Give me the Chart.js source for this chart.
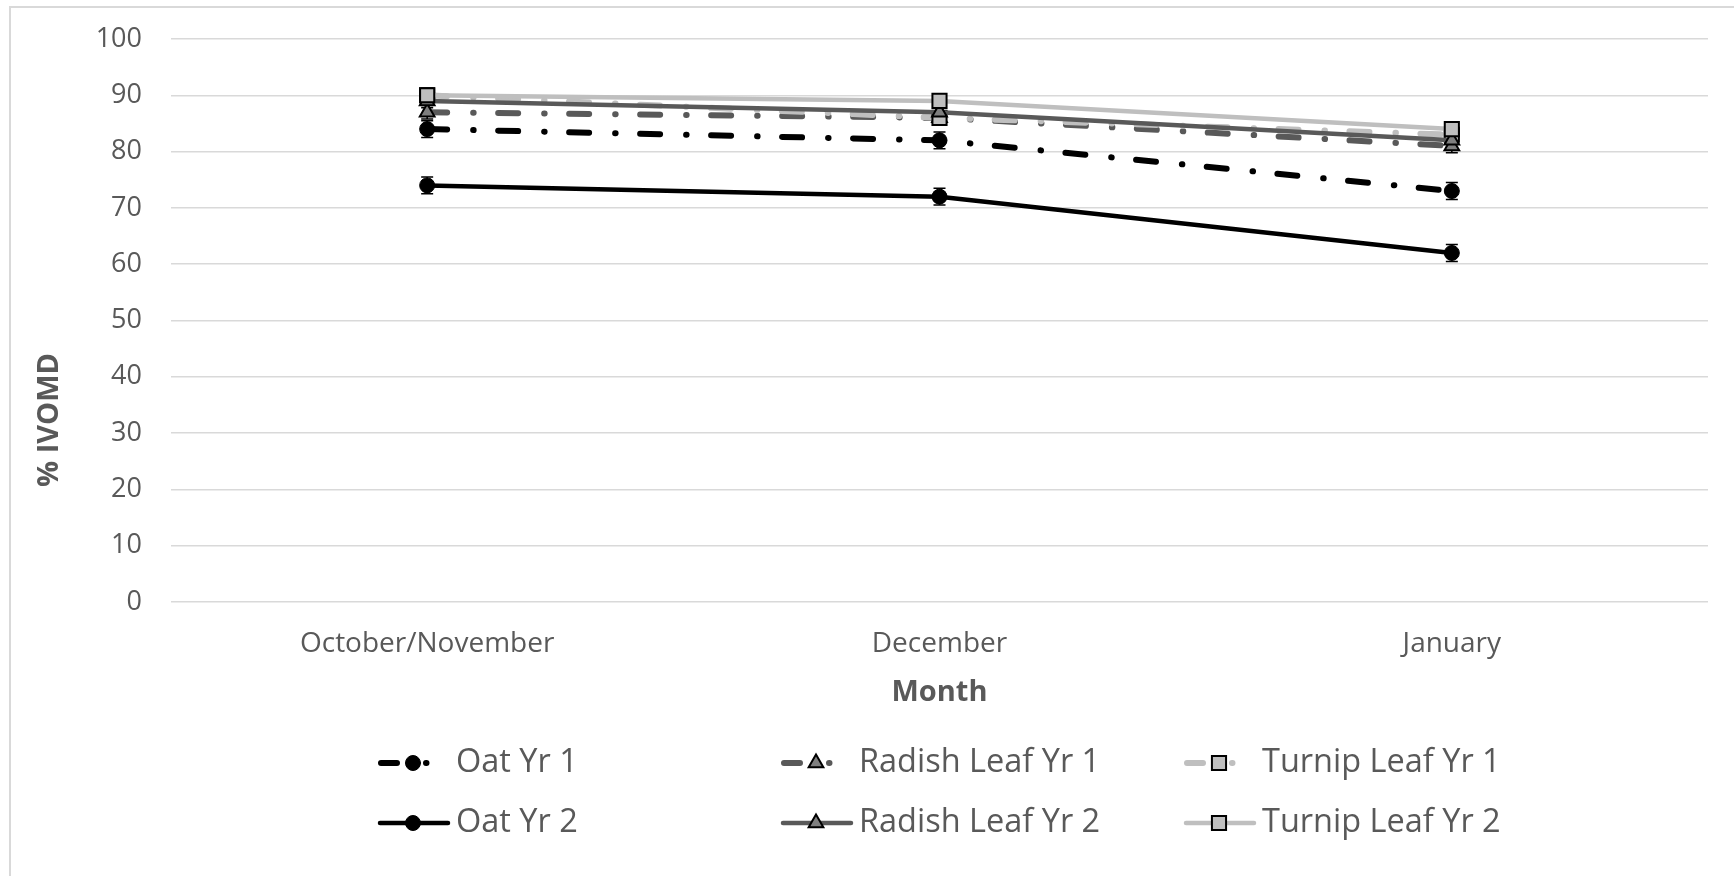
<!DOCTYPE html>
<html>
<head>
<meta charset="utf-8">
<title>% IVOMD by month</title>
<script src="https://cdn.jsdelivr.net/npm/chart.js@4.4.1/dist/chart.umd.min.js"></script>
<style>
    html, body { margin: 0; padding: 0; background: #ffffff; overflow: hidden; }
    #wrap { position: relative; width: 1734px; height: 876px; }
    #ivomdChart { display: block; }
    #frame {
        position: absolute; left: 9px; top: 6px; right: 0; bottom: 0;
        border-top: 2px solid #d9d9d9; border-left: 2px solid #d9d9d9;
        pointer-events: none;
    }
</style>
</head>
<body>
<div id="wrap">
    <canvas id="ivomdChart" width="1734" height="876"></canvas>
    <div id="frame"></div>
</div>
<script>
// ============================================================================
// Data
// ============================================================================

const months = ['October/November', 'December', 'January'];
const yTicks = [0, 10, 20, 30, 40, 50, 60, 70, 80, 90, 100];

const oatYr1 = [84, 82, 73];
const radishYr1 = [87, 86, 81];
const turnipYr1 = [90, 86, 83];
const oatYr2 = [74, 72, 62];
const radishYr2 = [89, 87, 82];
const turnipYr2 = [90, 89, 84];

// error bar half-widths (% IVOMD)
const oatErr = [1.5, 1.5, 1.5];
const leafErr = [1.2, 1.2, 1.2];

// ============================================================================
// Styling
// ============================================================================

const TEXT = '#595959';
const FONT = '"Open Sans", "DejaVu Sans", sans-serif';
const BLACK = '#000000';
const DARK = '#595959';
const LIGHT = '#bfbfbf';
const DASH_DOT = [20, 26, 0.5, 24.5];

function series(label, data, color, dashed, marker, order, errors) {
    const m = {
        circle: { style: 'circle', radius: 7.5, fill: BLACK, border: BLACK, bw: 1 },
        triangle: { style: 'triangle', radius: 8.5, fill: '#7f7f7f', border: BLACK, bw: 2 },
        square: { style: 'rect', radius: 10, fill: LIGHT, border: BLACK, bw: 2 }
    }[marker];
    return {
        label: label,
        data: data,
        borderColor: color,
        backgroundColor: color,
        borderWidth: dashed ? 6 : 4.5,
        borderDash: dashed ? DASH_DOT : [],
        borderCapStyle: 'round',
        borderJoinStyle: 'round',
        tension: 0,
        pointStyle: m.style,
        pointRadius: m.radius,
        pointHoverRadius: m.radius,
        pointBackgroundColor: m.fill,
        pointBorderColor: m.border,
        pointBorderWidth: m.bw,
        order: order,
        errorBars: errors,
        dashed: dashed,
        marker: m
    };
}

const datasets = [
    series('Oat Yr 1', oatYr1, BLACK, true, 'circle', 6, oatErr),
    series('Radish Leaf Yr 1', radishYr1, DARK, true, 'triangle', 5, leafErr),
    series('Turnip Leaf Yr 1', turnipYr1, LIGHT, true, 'square', 4, leafErr),
    series('Oat Yr 2', oatYr2, BLACK, false, 'circle', 3, oatErr),
    series('Radish Leaf Yr 2', radishYr2, DARK, false, 'triangle', 2, leafErr),
    series('Turnip Leaf Yr 2', turnipYr2, LIGHT, false, 'square', 1, leafErr)
];

// ============================================================================
// Plugins
// ============================================================================

// error bars, drawn under the lines
const errorBarPlugin = {
    id: 'errorBars',
    beforeDatasetsDraw(chart) {
        const ctx = chart.ctx;
        const y = chart.scales.y;
        ctx.save();
        ctx.strokeStyle = BLACK;
        ctx.lineWidth = 1.5;
        chart.data.datasets.forEach((ds, i) => {
            if (!ds.errorBars) return;
            chart.getDatasetMeta(i).data.forEach((pt, j) => {
                const top = y.getPixelForValue(ds.data[j] + ds.errorBars[j]);
                const bot = y.getPixelForValue(ds.data[j] - ds.errorBars[j]);
                ctx.beginPath();
                ctx.moveTo(pt.x, top); ctx.lineTo(pt.x, bot);
                ctx.moveTo(pt.x - 6, top); ctx.lineTo(pt.x + 6, top);
                ctx.moveTo(pt.x - 6, bot); ctx.lineTo(pt.x + 6, bot);
                ctx.stroke();
            });
        });
        ctx.restore();
    }
};

// axis titles + Excel-style legend grid (3 columns x 2 rows)
const decorPlugin = {
    id: 'decor',
    afterDraw(chart) {
        const ctx = chart.ctx;
        const area = chart.chartArea;
        ctx.save();

        ctx.fillStyle = TEXT;
        ctx.font = 'bold 29px ' + FONT;
        ctx.textAlign = 'center';
        ctx.textBaseline = 'middle';
        ctx.fillText('Month', (area.left + area.right) / 2, 693);

        ctx.save();
        ctx.translate(50, 420);
        ctx.rotate(-Math.PI / 2);
        ctx.fillText('% IVOMD', 0, 0);
        ctx.restore();

        const colX = [378, 781, 1184];
        const rowY = [763, 823];
        chart.data.datasets.forEach((ds, i) => {
            const x = colX[i % 3];
            const y = rowY[Math.floor(i / 3)];
            const mx = x + 35;

            ctx.strokeStyle = ds.borderColor;
            ctx.lineWidth = ds.dashed ? 6 : 4.5;
            ctx.lineCap = 'round';
            ctx.beginPath();
            if (ds.dashed) {
                ctx.moveTo(x + 3, y); ctx.lineTo(x + 19, y);
                ctx.moveTo(mx + 13, y); ctx.lineTo(mx + 13.5, y);
            } else {
                ctx.moveTo(x + 2, y); ctx.lineTo(x + 70, y);
            }
            ctx.stroke();

            const m = ds.marker;
            ctx.fillStyle = m.fill;
            ctx.strokeStyle = m.border;
            ctx.lineWidth = m.bw;
            Chart.helpers.drawPoint(ctx, {
                pointStyle: m.style,
                radius: m.radius,
                rotation: 0,
                borderWidth: m.bw
            }, mx, y);

            ctx.fillStyle = TEXT;
            ctx.font = '32.5px ' + FONT;
            ctx.textAlign = 'left';
            ctx.textBaseline = 'middle';
            ctx.fillText(ds.label, x + 78, y);
        });

        ctx.restore();
    }
};

// ============================================================================
// Chart
// ============================================================================

function renderChart() {
    const ctx = document.getElementById('ivomdChart');

    new Chart(ctx, {
        type: 'line',
        data: { labels: months, datasets: datasets },
        plugins: [errorBarPlugin, decorPlugin],
        options: {
            responsive: false,
            animation: false,
            layout: { padding: { top: 39, right: 26, left: 0, bottom: 0 } },
            plugins: {
                legend: { display: false },
                tooltip: { enabled: false }
            },
            scales: {
                x: {
                    offset: true,
                    grid: { display: false, drawTicks: false },
                    border: { display: false },
                    ticks: {
                        color: TEXT,
                        padding: 25,
                        maxRotation: 0,
                        font: { family: FONT, size: 28 }
                    },
                    afterFit(scale) {
                        scale.height = 274;
                        scale.paddingLeft = 0;
                        scale.paddingRight = 0;
                    }
                },
                y: {
                    min: 0,
                    max: 100,
                    afterBuildTicks(scale) {
                        scale.ticks = yTicks.map(v => ({ value: v }));
                    },
                    grid: { color: '#d9d9d9', lineWidth: 1.5, drawTicks: false },
                    border: { display: false },
                    ticks: {
                        color: TEXT,
                        padding: 29,
                        font: { family: FONT, size: 27 }
                    },
                    afterFit(scale) {
                        scale.width = 171;
                        scale.paddingTop = 0;
                        scale.paddingBottom = 0;
                    }
                }
            }
        }
    });
}

document.addEventListener('DOMContentLoaded', renderChart);
</script>
</body>
</html>
